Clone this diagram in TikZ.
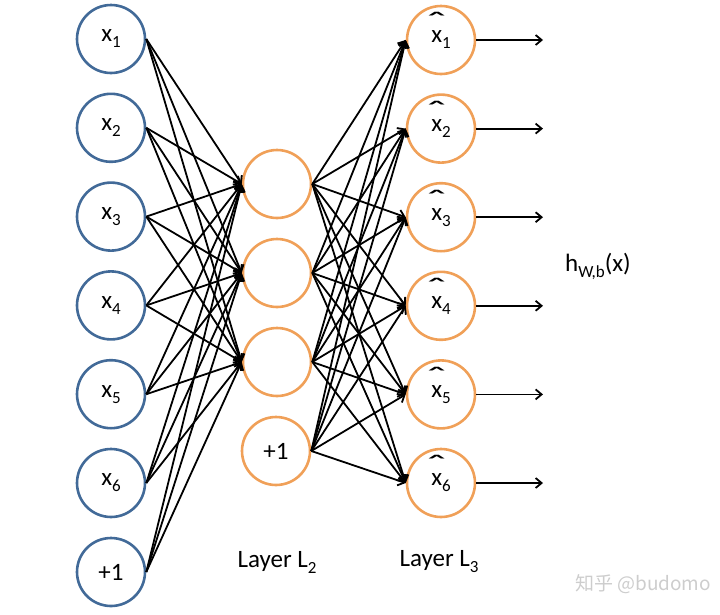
\documentclass[tikz,border=0pt]{standalone}
\usepackage{fontspec}
\usepackage{graphicx}
\setmainfont{Carlito}
\newfontfamily\cjkfont{Noto Sans CJK SC}
\usetikzlibrary{arrows.meta}

\definecolor{unitblue}{RGB}{66,106,152}
\definecolor{unitorange}{RGB}{240,160,88}
\definecolor{markgray}{RGB}{205,205,205}

% lowered index, as in the slide
\newcommand{\lowidx}[1]{\raisebox{-6pt}{\fontsize{17}{17}\selectfont #1}}
% x with a wide hat on top
\newcommand{\hatx}{{\ooalign{x\cr\hidewidth\raisebox{10pt}{\scalebox{2.2}[1.2]{\char"02C6}}\hidewidth\cr}}}

\tikzset{
  unit/.style={circle, line width=2.6pt, minimum size=68pt, inner sep=0pt, fill=white},
  inunit/.style={unit, draw=unitblue},
  hidunit/.style={unit, draw=unitorange},
  link/.style={line width=1.8pt, -{Straight Barb[length=6pt,width=10pt]}},
  caption/.style={inner sep=0pt}
}

\begin{document}
\begin{tikzpicture}[x=1pt, y=-1pt, font=\fontsize{25}{29}\selectfont]
  \useasboundingbox (0,0) rectangle (720,614);

  % --- input layer ---
  \foreach \i in {1,...,6}
    \node[inunit] (in\i) at (111, {39+88.8*(\i-1)}) {x\lowidx{\i}};
  \node[inunit] (in7) at (111, 572) {+1};

  % --- hidden layer L2 ---
  \foreach \j in {1,2,3}
    \node[hidunit] (hid\j) at (277, {184+89*(\j-1)}) {};
  \node[hidunit] (hid4) at (276, 451) {+1};

  % --- output layer L3 ---
  \foreach \k in {1,...,6} {
    \node[hidunit] (out\k) at (441, {40+88.6*(\k-1)}) {\hatx\lowidx{\k}};
    \coordinate (end\k) at (543, {40+88.6*(\k-1)});
  }

  % --- weights input -> hidden ---
  \foreach \i in {1,...,7}
    \foreach \j in {1,2,3}
      \draw[link] (in\i.east) -- (hid\j.west);

  % --- weights hidden -> output ---
  \foreach \j in {1,...,4}
    \foreach \k in {1,...,6}
      \draw[link] (hid\j.east) -- (out\k.west);

  % --- outputs ---
  \foreach \k in {1,...,6}
    \draw[link] (out\k.east) -- (end\k);

  % --- labels ---
  \node[caption] (hlabel) at (598, 266) {h\lowidx{W,b}(x)};
  \node[caption] (l2label) at (277, 562) {Layer L\lowidx{2}};
  \node[caption] (l3label) at (439, 562) {Layer L\lowidx{3}};
  \node[caption, text=markgray] (mark) at (643, 584) {\fontsize{19}{22}\selectfont\cjkfont 知乎 @budomo};
\end{tikzpicture}
\end{document}
